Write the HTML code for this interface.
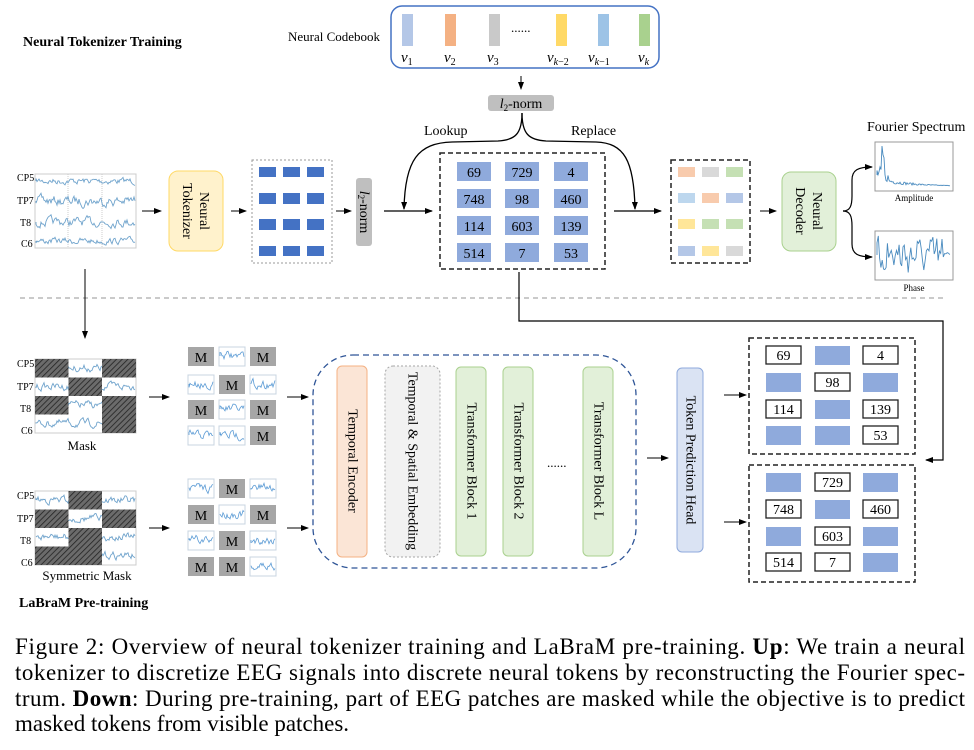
<!DOCTYPE html>
<html><head><meta charset="utf-8"><style>
html,body{margin:0;padding:0;background:#fff;}
svg{display:block;}
text{font-family:"Liberation Serif",serif;fill:#000;}
</style></head><body>
<svg id="s" width="974" height="750" viewBox="0 0 974 750" xmlns="http://www.w3.org/2000/svg">
<defs>
<marker id="ah" markerWidth="8" markerHeight="6" refX="7" refY="3" orient="auto" markerUnits="userSpaceOnUse">
<path d="M0,0 L8,3 L0,6 z" fill="#000"/></marker>
<pattern id="hatch" width="4" height="4" patternUnits="userSpaceOnUse" patternTransform="rotate(45)">
<rect width="4" height="4" fill="#6b6b6b"/><line x1="0" y1="0" x2="0" y2="4" stroke="#222" stroke-width="1.6"/></pattern>
</defs>

<text x="23" y="46" font-size="14" font-weight="bold">Neural Tokenizer Training</text>
<text x="288" y="41" font-size="13">Neural Codebook</text>

<rect x="391" y="6" width="268" height="62" rx="11" fill="#fff" stroke="#4472c4" stroke-width="1.5"/>
<rect x="402" y="14" width="11" height="32" fill="#b4c7e7"/>
<rect x="445" y="14" width="11" height="32" fill="#f4b183"/>
<rect x="489" y="14" width="11" height="32" fill="#c9c9c9"/>
<text x="511" y="32" font-size="13">......</text>
<rect x="556" y="14" width="11" height="32" fill="#ffd966"/>
<rect x="598" y="14" width="11" height="32" fill="#9dc3e6"/>
<rect x="639" y="14" width="11" height="32" fill="#a9d18e"/>
<g font-size="15" font-style="italic" fill="#333">
<text x="401" y="62">v<tspan font-size="10" font-style="normal" dy="3">1</tspan></text>
<text x="444" y="62">v<tspan font-size="10" font-style="normal" dy="3">2</tspan></text>
<text x="487" y="62">v<tspan font-size="10" font-style="normal" dy="3">3</tspan></text>
<text x="547" y="62">v<tspan font-size="10" dy="3">k</tspan><tspan font-size="10" font-style="normal">−2</tspan></text>
<text x="588" y="62">v<tspan font-size="10" dy="3">k</tspan><tspan font-size="10" font-style="normal">−1</tspan></text>
<text x="638" y="62">v<tspan font-size="10" dy="3">k</tspan></text>
</g>
<line x1="521" y1="76" x2="521" y2="89" stroke="#000" marker-end="url(#ah)"/>
<rect x="488" y="95" width="66" height="16" rx="3" fill="#bfbfbf"/>
<text x="521" y="108" font-size="14" text-anchor="middle"><tspan font-style="italic">l</tspan><tspan font-size="9" dy="3">2</tspan><tspan dy="-3">-norm</tspan></text>

<path d="M522,113 C522,134 515,140 498,141 L452,142 C418,143 405,160 404,209" fill="none" stroke="#000" stroke-width="1.3" marker-end="url(#ah)"/>
<path d="M522,113 C522,134 529,140 546,141 L596,142 C624,143 634,160 635,209" fill="none" stroke="#000" stroke-width="1.3" marker-end="url(#ah)"/>
<text x="424" y="135" font-size="14">Lookup</text>
<text x="571" y="135" font-size="14">Replace</text>

<rect x="35" y="174" width="101" height="74" fill="#fff" stroke="#ccc"/>
<line x1="68" y1="174" x2="68" y2="248" stroke="#ccc" stroke-dasharray="1,1"/>
<line x1="102" y1="174" x2="102" y2="248" stroke="#ccc" stroke-dasharray="1,1"/>
<g id="eegTop"></g>
<g font-size="10">
<text x="17" y="181">CP5</text><text x="17" y="204">TP7</text><text x="20" y="226">T8</text><text x="21" y="247">C6</text>
</g>

<line x1="142" y1="211" x2="161" y2="211" stroke="#000" marker-end="url(#ah)"/>
<rect x="169" y="171" width="54" height="80" rx="9" fill="#fff2cc" stroke="#ffd966"/>
<g transform="translate(196,211) rotate(90)" font-size="14" text-anchor="middle">
<text x="0" y="-4">Neural</text><text x="0" y="13">Tokenizer</text></g>
<line x1="231" y1="211" x2="246" y2="211" stroke="#000" marker-end="url(#ah)"/>
<rect x="252" y="160" width="80" height="103" fill="none" stroke="#999" stroke-dasharray="2,2"/>
<g fill="#4472c4">
<rect x="259" y="167" width="17" height="10"/><rect x="283" y="167" width="17" height="10"/><rect x="307" y="167" width="17" height="10"/>
<rect x="259" y="193" width="17" height="11"/><rect x="283" y="193" width="17" height="11"/><rect x="307" y="193" width="17" height="11"/>
<rect x="259" y="219" width="17" height="11"/><rect x="283" y="219" width="17" height="11"/><rect x="307" y="219" width="17" height="11"/>
<rect x="259" y="246" width="17" height="10"/><rect x="283" y="246" width="17" height="10"/><rect x="307" y="246" width="17" height="10"/>
</g>
<line x1="336" y1="211" x2="351" y2="211" stroke="#000" marker-end="url(#ah)"/>
<rect x="356" y="178" width="16" height="68" rx="3" fill="#bfbfbf"/>
<text transform="translate(364,212) rotate(90)" font-size="14" text-anchor="middle" dominant-baseline="central"><tspan font-style="italic">l</tspan><tspan font-size="9" dy="3">2</tspan><tspan dy="-3">-norm</tspan></text>
<line x1="384" y1="211" x2="432" y2="211" stroke="#000" stroke-width="1.2" marker-end="url(#ah)"/>

<rect x="440" y="153" width="165" height="116" fill="none" stroke="#222" stroke-width="1.5" stroke-dasharray="5,3"/>
<g id="tok"></g>

<line x1="614" y1="211" x2="661" y2="211" stroke="#000" stroke-width="1.2" marker-end="url(#ah)"/>
<rect x="671" y="160" width="79" height="103" fill="none" stroke="#222" stroke-width="1.5" stroke-dasharray="5,3"/>
<g id="col"></g>
<line x1="760" y1="211" x2="776" y2="211" stroke="#000" marker-end="url(#ah)"/>
<rect x="782" y="172" width="54" height="79" rx="9" fill="#e2f0d9" stroke="#a9d18e"/>
<g transform="translate(809,211) rotate(90)" font-size="14" text-anchor="middle">
<text x="0" y="-4">Neural</text><text x="0" y="13">Decoder</text></g>
<path d="M843,211 C850,211 852,206 852,196 L852,180 C852,170 858,167 872,167" fill="none" stroke="#000" stroke-width="1.2" marker-end="url(#ah)"/>
<path d="M843,211 C850,211 852,216 852,226 L852,244 C852,254 858,257 872,257" fill="none" stroke="#000" stroke-width="1.2" marker-end="url(#ah)"/>
<text x="867" y="131" font-size="14">Fourier Spectrum</text>
<rect x="875" y="142" width="78" height="49" fill="#fff" stroke="#999"/>
<rect x="875" y="231" width="78" height="49" fill="#fff" stroke="#999"/>
<g id="four"></g>
<text x="914" y="201" font-size="9" text-anchor="middle">Amplitude</text>
<text x="914" y="291" font-size="9" text-anchor="middle">Phase</text>

<line x1="20" y1="298" x2="946" y2="298" stroke="#aaa" stroke-width="1.2" stroke-dasharray="5,4"/>

<line x1="85" y1="269" x2="85" y2="338" stroke="#000" marker-end="url(#ah)"/>
<polyline points="519,272 519,321 943,321 943,460 926,460" fill="none" stroke="#000" stroke-width="1.2" marker-end="url(#ah)"/>

<g id="masks"></g>
<text x="82" y="450" font-size="13" text-anchor="middle">Mask</text>
<text x="87" y="580" font-size="13" text-anchor="middle">Symmetric Mask</text>
<text x="19" y="607" font-size="14" font-weight="bold">LaBraM Pre-training</text>

<line x1="149" y1="397" x2="169" y2="397" stroke="#000" marker-end="url(#ah)"/>
<line x1="149" y1="528" x2="169" y2="528" stroke="#000" marker-end="url(#ah)"/>
<g id="mgrid"></g>
<line x1="287" y1="397" x2="308" y2="397" stroke="#000" marker-end="url(#ah)"/>
<line x1="287" y1="528" x2="308" y2="528" stroke="#000" marker-end="url(#ah)"/>

<rect x="313" y="355" width="323" height="213" rx="40" fill="none" stroke="#2f5597" stroke-width="1.3" stroke-dasharray="6,4"/>
<rect x="337" y="366" width="30" height="191" rx="5" fill="#fbe5d6" stroke="#f4b183"/>
<rect x="385" y="366" width="55" height="191" rx="8" fill="#f2f2f2" stroke="#a6a6a6" stroke-dasharray="2,2"/>
<rect x="456" y="367" width="30" height="189" rx="5" fill="#e2f0d9" stroke="#a9d18e"/>
<rect x="503" y="367" width="30" height="189" rx="5" fill="#e2f0d9" stroke="#a9d18e"/>
<rect x="583" y="367" width="30" height="189" rx="5" fill="#e2f0d9" stroke="#a9d18e"/>
<rect x="677" y="368" width="26" height="184" rx="5" fill="#dae3f3" stroke="#8faadc"/>
<g font-size="14" text-anchor="middle" dominant-baseline="central">
<text transform="translate(352,461) rotate(90)">Temporal Encoder</text>
<text transform="translate(412,461) rotate(90)">Temporal &amp; Spatial Embedding</text>
<text transform="translate(471,461) rotate(90)">Transformer Block 1</text>
<text transform="translate(518,461) rotate(90)">Transformer Block 2</text>
<text transform="translate(598,461) rotate(90)">Transformer Block L</text>
<text transform="translate(690,460) rotate(90)">Token Prediction Head</text>
</g>
<text x="547" y="467" font-size="13">......</text>
<line x1="647" y1="458" x2="668" y2="458" stroke="#000" marker-end="url(#ah)"/>
<line x1="724" y1="395" x2="746" y2="395" stroke="#000" marker-end="url(#ah)"/>
<line x1="724" y1="522" x2="746" y2="522" stroke="#000" marker-end="url(#ah)"/>
<rect x="749" y="338" width="166" height="116" fill="none" stroke="#222" stroke-width="1.5" stroke-dasharray="5,3"/>
<rect x="749" y="465" width="166" height="117" fill="none" stroke="#222" stroke-width="1.5" stroke-dasharray="5,3"/>
<g id="outs"></g>

<g font-size="23">
<text x="15" y="654" textLength="950" lengthAdjust="spacing">Figure 2: Overview of neural tokenizer training and LaBraM pre-training. <tspan font-weight="bold">Up</tspan>: We train a neural</text>
<text x="15" y="680" textLength="950" lengthAdjust="spacing">tokenizer to discretize EEG signals into discrete neural tokens by reconstructing the Fourier spec-</text>
<text x="15" y="706" textLength="950" lengthAdjust="spacing">trum. <tspan font-weight="bold">Down</tspan>: During pre-training, part of EEG patches are masked while the objective is to predict</text>
<text x="15" y="731">masked tokens from visible patches.</text>
</g>
</svg>
<script>
var NS="http://www.w3.org/2000/svg";
function el(p,t,a,txt){var e=document.createElementNS(NS,t);for(var k in a)e.setAttribute(k,a[k]);if(txt!=null)e.textContent=txt;p.appendChild(e);return e;}
var seed=7;function r(){seed=(seed*16807)%2147483647;return seed/2147483647;}
function wave(p,x0,x1,y,amp,step,col,w){var d="M"+x0+","+y;var v=0;for(var x=x0;x<=x1;x+=step){v=v*0.6+(r()-0.5)*amp;d+=" L"+x.toFixed(1)+","+(y+v).toFixed(1);}el(p,"path",{d:d,fill:"none",stroke:col||"#4a8bbf","stroke-width":w||0.9});}
var g=document.getElementById("eegTop");
[181,201,222,241].forEach(function(y,i){wave(g,36,135,y,[5,8,7,5][i],1,"#6fa3cc",0.9);});
var t=document.getElementById("tok");
var cx=[457,505,554],ry=[162,189,216,243],nums=[["69","729","4"],["748","98","460"],["114","603","139"],["514","7","53"]];
for(var i=0;i<4;i++)for(var j=0;j<3;j++){el(t,"rect",{x:cx[j],y:ry[i],width:34,height:19,fill:"#8faadc"});el(t,"text",{x:cx[j]+17,y:ry[i]+15,"font-size":14,"text-anchor":"middle"},nums[i][j]);}
var c=document.getElementById("col");
var cc=[["#f8cbad","#d9d9d9","#c5e0b4"],["#bdd7ee","#f8cbad","#b4c7e7"],["#ffe699","#c5e0b4","#c5e0b4"],["#b4c7e7","#ffe699","#d9d9d9"]];
var ccx=[678,702,726],ccy=[167,193,219,246];
for(i=0;i<4;i++)for(j=0;j<3;j++)el(c,"rect",{x:ccx[j],y:ccy[i],width:17,height:10,fill:cc[i][j]});
var f=document.getElementById("four");
var d="M877,175";for(var x=877;x<951;x+=1){var k=x-877;var base=(k<5?15:k<8?30:k<12?10:6*Math.exp(-(k-12)/25));var y=186-base*(0.4+r()*0.9);if(k==5)y=146;d+=" L"+x+","+y.toFixed(1);}
el(f,"path",{d:d,fill:"none",stroke:"#4a8bbf","stroke-width":0.9});
d="M877,255";for(x=877;x<951;x+=1.3){var k2=x-877;var a=k2>66?3:20;d+=" L"+x.toFixed(1)+","+(255+(r()-0.5)*a*2).toFixed(1);}
el(f,"path",{d:d,fill:"none",stroke:"#4a8bbf","stroke-width":0.9});
var m=document.getElementById("masks");
function maskPlot(y0,pat,labY){el(m,"rect",{x:35,y:y0,width:101,height:74,fill:"#fff",stroke:"#ccc"});
var xs=[35,68.5,102],rh=18.5;
for(var i=0;i<4;i++)wave(m,36,135,y0+9+i*18.5,6,1,"#6fa3cc",0.9);
for(i=0;i<4;i++)for(var j=0;j<3;j++)if(pat[i][j])el(m,"rect",{x:xs[j],y:y0+i*rh,width:j==2?34:33.5,height:rh,fill:"url(#hatch)"});
var L=["CP5","TP7","T8","C6"],X=[17,17,20,21];for(i=0;i<4;i++)el(m,"text",{x:X[i],y:labY[i],"font-size":10},L[i]);}
var P1=[[1,0,1],[0,1,0],[1,0,1],[0,0,1]],P2=[[0,1,0],[1,0,1],[0,1,0],[1,1,0]];
maskPlot(359,P1,[367,390,412,434]);maskPlot(491,P2,[499,522,544,566]);
var mg=document.getElementById("mgrid");
function grid(rows,pat){var xs=[188,219,250];for(var i=0;i<4;i++)for(var j=0;j<3;j++){var x=xs[j],y=rows[i];
if(pat[i][j]){el(mg,"rect",{x:x,y:y,width:26,height:19,fill:"#a6a6a6"});el(mg,"text",{x:x+13,y:y+15,"font-size":14,"text-anchor":"middle"},"M");}
else{el(mg,"rect",{x:x,y:y,width:26,height:19,fill:"#fff",stroke:"#c8d4e0"});wave(mg,x+1,x+25,y+9,7,1,"#5b9bd5",0.8);}}}
grid([347,375,400,426],P1);grid([479,505,531,557],P2);
var o=document.getElementById("outs");
function out(rows,vals){var xs=[766,815,863];for(var i=0;i<4;i++)for(var j=0;j<3;j++){var v=vals[i][j],x=xs[j],y=rows[i];
if(v){el(o,"rect",{x:x,y:y,width:35,height:18,fill:"#fff",stroke:"#222","stroke-width":1.3});el(o,"text",{x:x+17.5,y:y+14,"font-size":14,"text-anchor":"middle"},v);}
else el(o,"rect",{x:x,y:y,width:35,height:19,fill:"#8faadc"});}}
out([346,373,400,426],[["69","","4"],["","98",""],["114","","139"],["","","53"]]);
out([473,500,527,553],[["","729",""],["748","","460"],["","603",""],["514","7",""]]);
</script>
</body></html>
